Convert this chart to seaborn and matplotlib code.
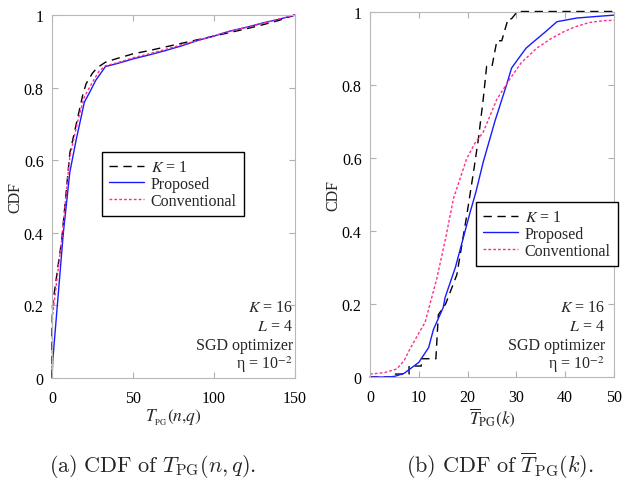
import numpy as np
import pandas as pd
import matplotlib
matplotlib.use("Agg")
import matplotlib.pyplot as plt
import seaborn as sns

# ---------------- data ----------------
# (a) CDF of T_PG(n,q)
a_x_k1 = [0, 0, 0.3, 6, 11, 16, 19, 21, 25, 28, 33, 40, 50, 60, 70, 80, 90, 100, 110, 120, 130, 140, 150]
a_y_k1 = [0, 0.12, 0.2, 0.38, 0.62, 0.72, 0.78, 0.81, 0.84, 0.855, 0.87, 0.88, 0.893, 0.902, 0.912, 0.922, 0.932, 0.942, 0.952, 0.962, 0.973, 0.985, 1.0]
a_x_prop = [0, 0.5, 7, 11, 15, 20, 23, 27, 33, 40, 50, 60, 70, 80, 90, 100, 110, 120, 130, 140, 150]
a_y_prop = [0, 0.05, 0.40, 0.567, 0.658, 0.76, 0.785, 0.82, 0.858, 0.866, 0.879, 0.89, 0.902, 0.915, 0.93, 0.942, 0.956, 0.966, 0.978, 0.988, 1.0]
a_x_conv = [0, 0.3, 6, 11, 16, 20, 25, 29, 33, 40, 50, 60, 70, 80, 90, 100, 110, 120, 130, 140, 150]
a_y_conv = [0, 0.17, 0.38, 0.61, 0.71, 0.775, 0.815, 0.845, 0.86, 0.868, 0.882, 0.893, 0.905, 0.918, 0.93, 0.943, 0.955, 0.966, 0.977, 0.989, 1.0]

# (b) CDF of mean T_PG(k)
b_x_k1 = [0, 5, 5, 8, 8, 10.5, 10.5, 13.5, 14, 15.5, 17.8, 19.8, 21.2, 22.2, 23.2, 23.9, 25, 26, 27, 28.3, 29, 30.2, 50]
b_y_k1 = [0, 0, 0.008, 0.008, 0.03, 0.03, 0.05, 0.05, 0.17, 0.2, 0.28, 0.44, 0.56, 0.65, 0.76, 0.85, 0.85, 0.92, 0.92, 0.98, 0.98, 1.0, 1.0]
b_x_prop = [0, 4, 5.1, 7, 8.2, 10, 10.9, 12, 13, 14, 15, 15.4, 17.5, 19.3, 20.5, 21.7, 23.2, 25.6, 28, 29, 30.4, 32, 33.5, 36, 38.3, 42.3, 46, 50]
b_y_prop = [0, 0, 0.002, 0.01, 0.022, 0.04, 0.058, 0.08, 0.13, 0.16, 0.19, 0.218, 0.3, 0.39, 0.45, 0.506, 0.588, 0.70, 0.80, 0.845, 0.871, 0.9, 0.917, 0.945, 0.972, 0.982, 0.986, 0.99]
b_x_conv = [0, 3, 5.5, 7, 8.2, 10, 11.3, 12.5, 13.7, 15.5, 17.1, 19.8, 21.5, 23.2, 26, 28.7, 31, 34.2, 37, 39.6, 42, 45, 48, 50]
b_y_conv = [0.008, 0.012, 0.022, 0.045, 0.077, 0.12, 0.15, 0.21, 0.27, 0.38, 0.488, 0.597, 0.64, 0.67, 0.76, 0.816, 0.86, 0.9, 0.925, 0.944, 0.958, 0.97, 0.975, 0.976]

labels = ["$K$ = 1", "Proposed", "Conventional"]
a_xticks = [0, 50, 100, 150]
b_xticks = [0, 10, 20, 30, 40, 50]
yticks = [0, 0.2, 0.4, 0.6, 0.8, 1]
annot = ["$K$ = 16", "$L$ = 4", "SGD optimizer", "η = 10$^{-2}$"]

# ---------------- style ----------------
sns.set_style("ticks")
plt.rcParams["font.family"] = ["Liberation Serif", "DejaVu Serif"]
plt.rcParams["mathtext.fontset"] = "stix"
FS = 11.5

fig = plt.figure(figsize=(6.23, 4.81), dpi=100)
W, H = 623, 481
axA = fig.add_axes([52 / W, 1 - 379 / H, 243 / W, 363 / H])
axB = fig.add_axes([370 / W, 1 - 378 / H, 244 / W, 365.5 / H])

colors = ["black", "#1a1aff", "#ff2d8a"]
styles = [(0, (6, 4)), "-", (0, (2, 1.5))]

def draw(ax, xs, ys, xlim, xticks, xlabel, legend_xy, annot_x_px):
    for x, y, c, ls, lab in zip(xs, ys, colors, styles, labels):
        df = pd.DataFrame({"x": x, "y": y})
        sns.lineplot(data=df, x="x", y="y", ax=ax, estimator=None, sort=False,
                     color=c, linestyle=ls, linewidth=1.0, label=lab, clip_on=False)
    ax.set_xlim(*xlim)
    ax.set_ylim(0, 1)
    ax.set_xticks(xticks)
    ax.set_xticklabels([str(t) for t in xticks])
    ax.set_yticks(yticks)
    ax.set_yticklabels(["0", "0.2", "0.4", "0.6", "0.8", "1"])
    ax.tick_params(direction="in", top=True, right=True, length=4, width=0.8,
                   color="#b0b0b0", labelsize=FS, labelcolor="black")
    ax.tick_params(axis="x", pad=9)
    ax.tick_params(axis="y", pad=6)
    for sp in ax.spines.values():
        sp.set_visible(True)
        sp.set_color("#b8b8b8")
        sp.set_linewidth(0.8)
    ax.set_ylabel("CDF", fontsize=FS, labelpad=0)
    ax.set_xlabel(xlabel, fontsize=12.5, labelpad=0)
    leg = ax.legend(loc="upper left", bbox_to_anchor=(legend_xy[0] / W, 1 - legend_xy[1] / H),
                    bbox_transform=fig.transFigure, borderaxespad=0, fontsize=FS,
                    handlelength=2.2, handletextpad=0.4, labelspacing=0.05,
                    borderpad=0.45, fancybox=False, framealpha=1)
    leg.get_frame().set_edgecolor("black")
    leg.get_frame().set_linewidth(1.0)
    ys_px = [308, 327, 346, 365]
    for t, yp in zip(annot, ys_px):
        fig.text(annot_x_px / W, 1 - yp / H, t, ha="right", va="center", fontsize=FS)

draw(axA, [a_x_k1, a_x_prop, a_x_conv], [a_y_k1, a_y_prop, a_y_conv], (0, 150),
     a_xticks, r"$T_{_{\mathrm{PG}}}(n{,}q)$", (102, 153), 293)
draw(axB, [b_x_k1, b_x_prop, b_x_conv], [b_y_k1, b_y_prop, b_y_conv], (0, 50),
     b_xticks, r"$\overline{T}_{\mathrm{PG}}(k)$", (476, 203), 605)

fig.text(153 / W, 1 - 466 / H, r"$\mathrm{(a)\ CDF\ of\ }T_{\mathrm{PG}}(n,q).$",
         ha="center", va="center", fontsize=16, math_fontfamily="cm")
fig.text(500 / W, 1 - 466 / H, r"$\mathrm{(b)\ CDF\ of\ }\overline{T}_{\mathrm{PG}}(k).$",
         ha="center", va="center", fontsize=16, math_fontfamily="cm")

fig.savefig("out.png", dpi=100)
